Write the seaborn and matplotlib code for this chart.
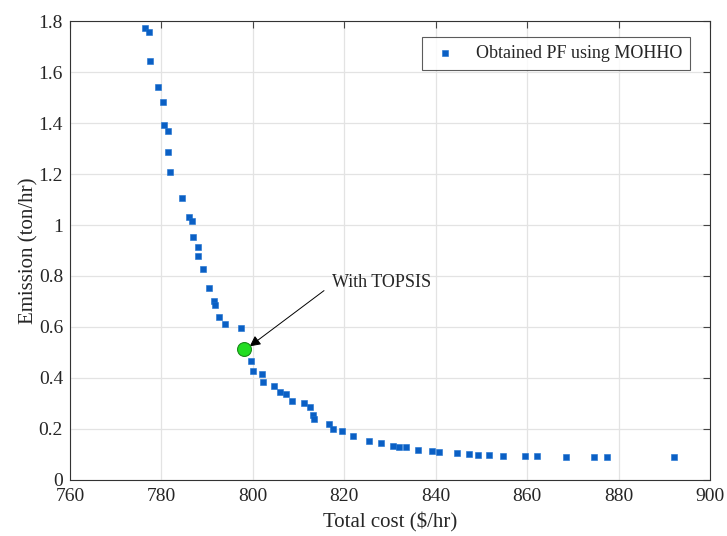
import matplotlib
matplotlib.use("Agg")
import matplotlib.pyplot as plt
import seaborn as sns
import pandas as pd
from matplotlib.ticker import FuncFormatter

# Pareto front
cost = [776.4, 777.3, 777.6, 779.2, 780.3, 780.6, 781.5, 781.5, 781.9, 784.4,
        786.0, 786.6, 787.0, 787.9, 788.1, 789.0, 790.3, 791.5, 791.7, 792.7,
        794.0, 797.5, 799.7, 800.1, 802.0, 802.2, 804.7, 806.0, 807.3, 808.5,
        811.2, 812.5, 813.1, 813.4, 816.7, 817.5, 819.6, 821.8, 825.4, 828.0,
        830.6, 832.0, 833.5, 836.1, 839.2, 840.8, 844.6, 847.2, 849.3, 851.6,
        854.7, 859.5, 862.2, 868.4, 874.6, 877.5, 892.1]
emission = [1.774, 1.756, 1.643, 1.542, 1.481, 1.393, 1.369, 1.285, 1.208, 1.107,
            1.030, 1.017, 0.953, 0.912, 0.880, 0.829, 0.753, 0.702, 0.685, 0.638,
            0.612, 0.596, 0.465, 0.427, 0.416, 0.384, 0.369, 0.345, 0.336, 0.310,
            0.302, 0.288, 0.254, 0.238, 0.220, 0.199, 0.193, 0.173, 0.153, 0.145,
            0.135, 0.128, 0.128, 0.119, 0.112, 0.109, 0.106, 0.101, 0.097, 0.097,
            0.095, 0.094, 0.093, 0.091, 0.091, 0.091, 0.091]

topsis_cost = [798.1]
topsis_emission = [0.512]

x_ticks = [760, 780, 800, 820, 840, 860, 880, 900]
y_ticks = [0, 0.2, 0.4, 0.6, 0.8, 1.0, 1.2, 1.4, 1.6, 1.8]

sns.set_style("whitegrid")
plt.rcParams["font.family"] = ["Liberation Serif", "DejaVu Serif"]

df = pd.DataFrame({"cost": cost, "emission": emission})

fig = plt.figure(figsize=(7.27, 5.36), dpi=100)
ax = fig.add_axes([0.0963, 0.1045, 0.8803, 0.8563])

sns.scatterplot(data=df, x="cost", y="emission", ax=ax, marker="s", s=25,
                color="#0a5fc4", edgecolor="#1a70d0", linewidth=0.4,
                label="Obtained PF using MOHHO", zorder=3)
ax.plot(topsis_cost, topsis_emission, "o", ms=10, mfc="#22dd22",
        mec="#1a8a1a", mew=0.8, zorder=4)

ax.annotate("With TOPSIS", xy=(topsis_cost[0] + 1.2, topsis_emission[0] + 0.012),
            xytext=(817.3, 0.776), fontsize=13, va="center", ha="left",
            arrowprops=dict(arrowstyle="-|>", color="black", lw=0.7,
                            mutation_scale=16, shrinkA=0, shrinkB=0,
                            relpos=(-0.08, 0.0)))

ax.set_xlim(760, 900)
ax.set_ylim(0, 1.8)
ax.set_xticks(x_ticks)
ax.set_yticks(y_ticks)
ax.yaxis.set_major_formatter(FuncFormatter(lambda v, p: f"{v:g}"))
ax.set_xlabel("Total cost ($/hr)", fontsize=15, labelpad=5)
ax.set_ylabel("Emission (ton/hr)", fontsize=15, labelpad=0)

ax.grid(True, color="#e3e3e3", linewidth=0.9)
ax.tick_params(direction="in", length=5, width=0.8, color="#444444",
               labelsize=14, top=True, right=True, pad=5)
ax.tick_params(axis="x", pad=6)
for s in ax.spines.values():
    s.set_color("#333333")
    s.set_linewidth(0.8)

leg = ax.legend(loc="upper right", bbox_to_anchor=(0.969, 0.965),
                fontsize=13, frameon=True, fancybox=False,
                borderpad=0.45, handletextpad=0.9, handlelength=1.6,
                borderaxespad=0, markerscale=1.0)
leg.get_frame().set_edgecolor("#333333")
leg.get_frame().set_linewidth(0.8)

fig.savefig("out.png", dpi=100)
